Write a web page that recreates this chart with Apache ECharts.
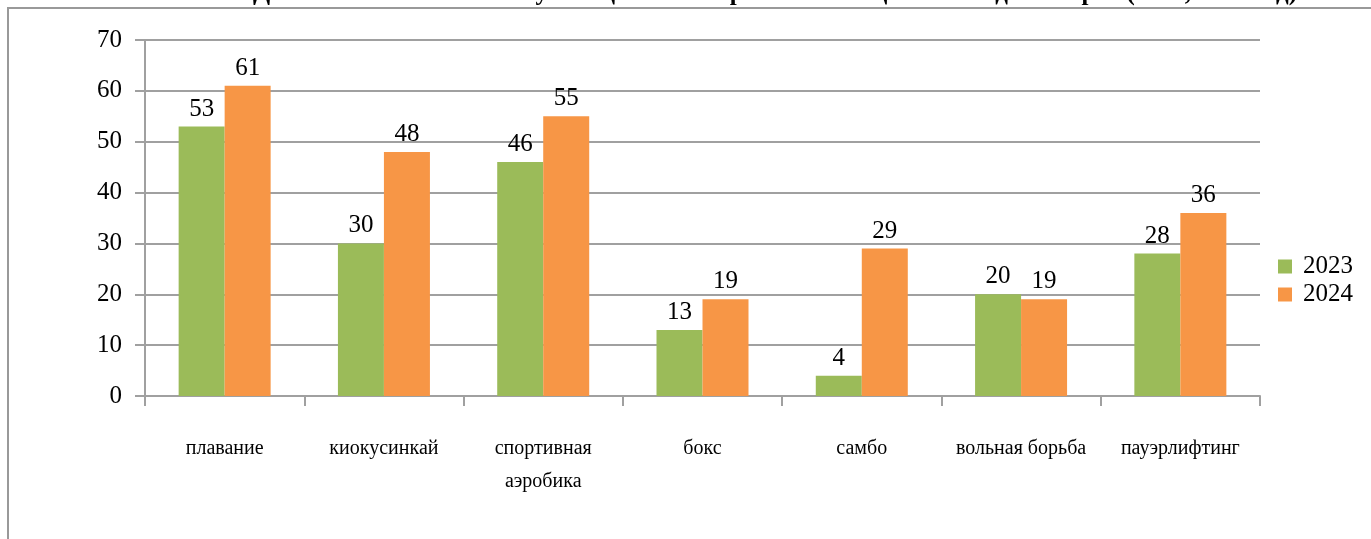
<!DOCTYPE html>
<html>
<head>
<meta charset="utf-8">
<script src="https://cdn.jsdelivr.net/npm/echarts@6/dist/echarts.min.js"></script>
<style>
  html, body { margin: 0; padding: 0; background: #fff; }
  #chart { width: 1371px; height: 539px; }
</style>
</head>
<body>
<div id="chart"></div>
<script>
const titleText = 'Динамика количества обучающихся в спортивных секциях по видам спорта (2023, 2024 год)'
const categories = ['плавание', 'киокусинкай', 'спортивная\nаэробика', 'бокс', 'самбо', 'вольная борьба', 'пауэрлифтинг']
const seriesNames = ['2023', '2024']
const values2023 = [53, 30, 46, 13, 4, 20, 28]
const values2024 = [61, 48, 55, 19, 29, 19, 36]
const yTicks = { min: 0, max: 70, interval: 10 }

const serif = '"Liberation Serif", "DejaVu Serif", serif'
const axisGray = '#a0a0a0'

const chart = echarts.init(document.getElementById('chart'))

const barLabel = {
  show: true,
  position: 'top',
  distance: 5,
  color: '#000',
  fontFamily: serif,
  fontSize: 25
}

chart.setOption({
  animation: false,
  title: {
    text: titleText,
    left: 248,
    top: -24,
    textStyle: { fontFamily: serif, fontSize: 25, fontWeight: 'bold', color: '#000' }
  },
  graphic: [{
    type: 'rect',
    shape: { x: 8, y: 8, width: 1420, height: 600 },
    style: { fill: 'none', stroke: '#999', lineWidth: 2 },
    silent: true
  }],
  legend: {
    orient: 'vertical',
    left: 1273,
    top: 249,
    itemWidth: 14,
    itemHeight: 14,
    itemGap: 3,
    icon: 'rect',
    textStyle: { fontFamily: serif, fontSize: 25, color: '#000', padding: [0, 0, 0, 6] },
    data: seriesNames
  },
  grid: { left: 145, right: 111, top: 40, bottom: 143, containLabel: false },
  xAxis: {
    type: 'category',
    data: categories,
    axisLine: { lineStyle: { color: axisGray, width: 2 } },
    axisTick: { show: true, length: 10, lineStyle: { color: axisGray, width: 2 } },
    axisLabel: {
      interval: 0,
      margin: 36,
      color: '#000',
      fontFamily: serif,
      fontSize: 20,
      lineHeight: 33
    }
  },
  yAxis: {
    type: 'value',
    min: yTicks.min,
    max: yTicks.max,
    interval: yTicks.interval,
    axisLine: { show: true, lineStyle: { color: axisGray, width: 2 } },
    axisTick: { show: true, length: 10, lineStyle: { color: axisGray, width: 2 } },
    splitLine: { lineStyle: { color: axisGray, width: 2 } },
    axisLabel: { margin: 23, color: '#000', fontFamily: serif, fontSize: 25 }
  },
  series: [
    {
      name: seriesNames[0],
      type: 'bar',
      data: values2023,
      barWidth: 46,
      barGap: '0%',
      itemStyle: { color: '#9bbb59' },
      label: barLabel
    },
    {
      name: seriesNames[1],
      type: 'bar',
      data: values2024,
      barWidth: 46,
      barGap: '0%',
      itemStyle: { color: '#f79646' },
      label: barLabel
    }
  ]
})
</script>
</body>
</html>
